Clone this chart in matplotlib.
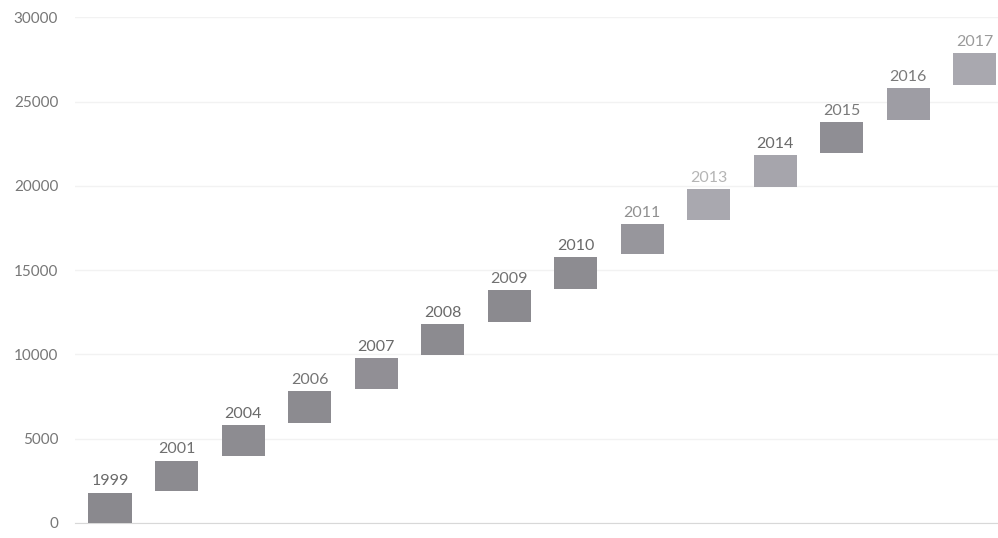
import matplotlib.pyplot as plt

plt.rcParams["font.family"] = ["Lato", "DejaVu Sans"]

years = ["1999", "2001", "2004", "2006", "2007", "2008", "2009",
         "2010", "2011", "2013", "2014", "2015", "2016", "2017"]
bottoms = [0, 1900, 3950, 5950, 7950, 9950, 11900,
           13900, 15950, 17950, 19950, 21950, 23900, 25950]
heights = [1800, 1800, 1850, 1850, 1850, 1850, 1900,
           1850, 1800, 1850, 1850, 1850, 1900, 1900]
bar_colors = ["#8a898e", "#8c8b90", "#8d8c91", "#8c8b90", "#918f95", "#8c8b90", "#8b8a8f",
              "#8d8c91", "#97969c", "#a9a8af", "#a6a5ac", "#8f8e94", "#9e9da4", "#a9a8af"]
label_colors = ["#6a6a6a", "#707070", "#6a6a6a", "#747474", "#6a6a6a", "#6a6a6a", "#727272",
                "#6a6a6a", "#909090", "#b5b5b5", "#6a6a6a", "#7a7a7a", "#7a7a7a", "#9a9a9a"]

fig = plt.figure(figsize=(9.98, 5.38), dpi=100)
ax = fig.add_axes([0.075, 0.028, 0.925, 0.94])

x = list(range(len(years)))
ax.bar(x, heights, bottom=bottoms, width=0.65, color=bar_colors, zorder=3)

for i in x:
    ax.text(i, bottoms[i] + heights[i] + 250, years[i], ha="center", va="bottom",
            fontsize=11.5, color=label_colors[i], zorder=4)

ax.set_xlim(-0.53, 13.35)
ax.set_ylim(0, 30000)
ax.set_yticks(range(0, 30001, 5000))
ax.set_xticks([])
ax.tick_params(axis="y", length=0, labelsize=11, labelcolor="#777777", pad=12)
ax.grid(axis="y", color="#f2f2f2", linewidth=1, zorder=0)
for s in ["top", "right", "left"]:
    ax.spines[s].set_visible(False)
ax.spines["bottom"].set_color("#d8d8d8")

fig.savefig("out.png", dpi=100)
